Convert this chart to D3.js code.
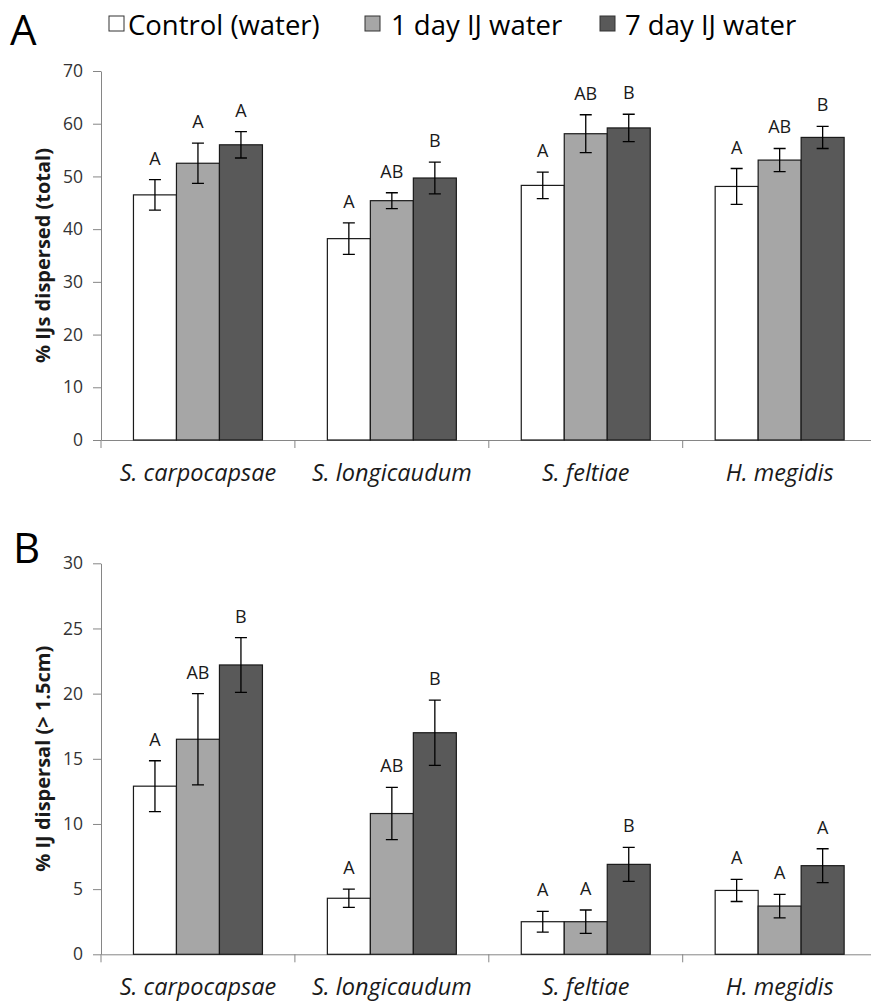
<!DOCTYPE html>
<html>
<head>
<meta charset="utf-8">
<script src="https://cdn.jsdelivr.net/npm/d3@7"></script>
<style>
  body { margin: 0; background: #fff; }
  svg { display: block; }
  text { font-family: "Open Sans", Lato, sans-serif; }
</style>
</head>
<body>
<svg id="chart" width="871" height="1005"></svg>
<script>
// Nematode species (x categories) and treatments (bar series)
const categories = ["S. carpocapsae", "S. longicaudum", "S. feltiae", "H. megidis"];
const treatments = ["Control (water)", "1 day IJ water", "7 day IJ water"];

// Panel A: % IJs dispersed (total), mean and error per treatment
const totalControl = [46.5, 38.2, 48.3, 48.1];
const total1Day    = [52.5, 45.4, 58.1, 53.1];
const total7Day    = [56.0, 49.7, 59.2, 57.4];
const totalControlErr = [2.9, 3.0, 2.5, 3.4];
const total1DayErr    = [3.8, 1.5, 3.6, 2.2];
const total7DayErr    = [2.5, 3.0, 2.6, 2.1];
const totalControlSig = ["A", "A", "A", "A"];
const total1DaySig    = ["A", "AB", "AB", "AB"];
const total7DaySig    = ["A", "B", "B", "B"];
const totalTicks = [0, 10, 20, 30, 40, 50, 60, 70];

// Panel B: % IJ dispersal beyond 1.5 cm
const farControl = [12.9, 4.3, 2.5, 4.9];
const far1Day    = [16.5, 10.8, 2.5, 3.7];
const far7Day    = [22.2, 17.0, 6.9, 6.8];
const farControlErr = [1.95, 0.7, 0.8, 0.85];
const far1DayErr    = [3.5, 2.0, 0.9, 0.9];
const far7DayErr    = [2.1, 2.5, 1.3, 1.3];
const farControlSig = ["A", "A", "A", "A"];
const far1DaySig    = ["AB", "AB", "A", "A"];
const far7DaySig    = ["B", "B", "B", "A"];
const farTicks = [0, 5, 10, 15, 20, 25, 30];

const fills = ["#ffffff", "#a6a6a6", "#595959"];
const axisColor = "#868686";
const inkColor = "#1a1a1a";
const font = "'Open Sans', Lato, sans-serif";

const svg = d3.select("#chart");

const x0 = d3.scaleBand().domain(categories).range([101, 876.6]).padding(0);
const x1 = d3.scaleBand().domain(treatments).range([0, x0.bandwidth()]).paddingInner(0).paddingOuter(0.755);

function drawPanel(p) {
  const y = d3.scaleLinear().domain([0, p.ticks[p.ticks.length - 1]]).range([p.bottom, p.top]);
  const g = svg.append("g");

  // value axis
  const yAxis = g.append("g")
    .attr("transform", `translate(${x0.range()[0]},0)`)
    .call(d3.axisLeft(y).tickValues(p.ticks).tickSize(8).tickSizeOuter(0).tickPadding(10));
  yAxis.select(".domain").attr("stroke", axisColor).attr("stroke-width", 1);
  yAxis.selectAll(".tick line").attr("stroke", axisColor);
  yAxis.selectAll(".tick text")
    .attr("fill", "#333").style("font-size", "17.5px").style("font-family", font);

  // category axis
  const xAxis = g.append("g")
    .attr("transform", `translate(0,${p.bottom})`)
    .call(d3.axisBottom(x0).tickSize(0).tickSizeOuter(0).tickPadding(0));
  xAxis.select(".domain").attr("stroke", axisColor).attr("stroke-width", 1);
  xAxis.selectAll(".tick text")
    .attr("dy", null).attr("y", 41)
    .attr("fill", inkColor)
    .style("font-size", "23.5px").style("font-style", "italic").style("font-family", font);

  // boundary ticks between categories
  const bounds = categories.map(c => x0(c)).concat([x0.range()[1]]);
  g.append("g").selectAll("line").data(bounds).join("line")
    .attr("x1", d => d).attr("x2", d => d)
    .attr("y1", p.bottom).attr("y2", p.bottom + 8)
    .attr("stroke", axisColor).attr("stroke-width", 1);

  // bars
  const rows = [];
  categories.forEach((c, i) => {
    treatments.forEach((t, j) => {
      rows.push({ c, t, j, v: p.values[j][i], e: p.errors[j][i], s: p.sig[j][i] });
    });
  });

  g.append("g").selectAll("rect").data(rows).join("rect")
    .attr("x", d => x0(d.c) + x1(d.t))
    .attr("y", d => y(d.v))
    .attr("width", x1.bandwidth())
    .attr("height", d => y(0) - y(d.v))
    .attr("fill", d => fills[d.j])
    .attr("stroke", inkColor)
    .attr("stroke-width", 1.2);

  // error bars
  const eb = g.append("g").attr("stroke", "#000").attr("stroke-width", 1.3).attr("fill", "none");
  const cx = d => x0(d.c) + x1(d.t) + x1.bandwidth() / 2;
  eb.selectAll("path").data(rows).join("path")
    .attr("d", d => {
      const xc = cx(d), yt = y(d.v + d.e), yb = y(d.v - d.e);
      return `M${xc - 6},${yt}H${xc + 6}M${xc},${yt}V${yb}M${xc - 6},${yb}H${xc + 6}`;
    });

  // significance letters
  g.append("g").selectAll("text").data(rows).join("text")
    .attr("x", cx)
    .attr("y", d => y(d.v + d.e) - 15)
    .attr("text-anchor", "middle")
    .attr("fill", inkColor)
    .style("font-size", "18px")
    .text(d => d.s);

  // axis title
  g.append("text")
    .attr("transform", `translate(50,${(p.top + p.bottom) / 2}) rotate(-90)`)
    .attr("text-anchor", "middle")
    .attr("fill", inkColor)
    .style("font-size", "20px").style("font-weight", "bold")
    .text(p.title);

  // panel letter
  g.append("text")
    .attr("x", p.labelX).attr("y", p.labelY)
    .attr("fill", "#000")
    .style("font-size", "42px")
    .text(p.label);
}

drawPanel({
  top: 71, bottom: 440, ticks: totalTicks,
  values: [totalControl, total1Day, total7Day],
  errors: [totalControlErr, total1DayErr, total7DayErr],
  sig: [totalControlSig, total1DaySig, total7DaySig],
  title: "% IJs dispersed (total)", label: "A", labelX: 10, labelY: 45
});

drawPanel({
  top: 563.3, bottom: 954.3, ticks: farTicks,
  values: [farControl, far1Day, far7Day],
  errors: [farControlErr, far1DayErr, far7DayErr],
  sig: [farControlSig, far1DaySig, far7DaySig],
  title: "% IJ dispersal (> 1.5cm)", label: "B", labelX: 13, labelY: 563
});

// legend
const legendBoxX = [109, 365, 600];
const legendTextX = [128, 391, 625];
const legend = svg.append("g").selectAll("g").data(treatments).join("g");
legend.append("rect")
  .attr("x", (d, i) => legendBoxX[i]).attr("y", 16)
  .attr("width", 15).attr("height", 15)
  .attr("fill", (d, i) => fills[i])
  .attr("stroke", "#333").attr("stroke-width", 1);
legend.append("text")
  .attr("x", (d, i) => legendTextX[i]).attr("y", 35)
  .attr("fill", "#000")
  .style("font-size", "27.5px")
  .text(d => d);
</script>
</body>
</html>
